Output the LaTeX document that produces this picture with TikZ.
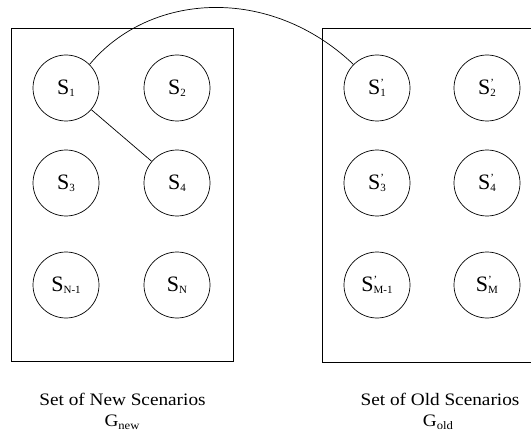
\documentclass[tikz,border=0pt]{standalone}
\usepackage{fontspec}
\setmainfont{Liberation Serif}
\newfontfamily\lblfont[FakeStretch=1.1]{Liberation Serif}
\newcommand\subsz{\fontsize{11}{11}\selectfont}
\newcommand\scen[2]{\fontsize{22}{22}\selectfont S\makebox[0pt][l]{\raisebox{8pt}{\subsz #1}}\raisebox{-2pt}{\subsz #2}}
\newcommand\grp[1]{G\raisebox{-3pt}{\fontsize{11.5}{11.5}\selectfont #1}}
\begin{document}
\begin{tikzpicture}[x=1pt,y=-1pt,
  scen/.style={draw,circle,minimum size=66pt,inner sep=0pt,line width=0.7pt},
  setbox/.style={draw,line width=0.7pt},
  link/.style={draw,line width=0.7pt},
  lbl/.style={anchor=base,inner sep=0pt,font=\lblfont\fontsize{17.5}{17.5}\selectfont}]
\useasboundingbox (0,0) rectangle (531,444);
% boxes
\draw[setbox] (11,28.5) rectangle (233,361);
\draw[setbox] (322,28.5) rectangle (545,362);
% new scenarios
\node[scen] (s1) at (66,88) {\scen{}{1}};
\node[scen] (s2) at (177,88) {\scen{}{2}};
\node[scen] (s3) at (66,183) {\scen{}{3}};
\node[scen] (s4) at (177,183) {\scen{}{4}};
\node[scen] (sn1) at (66,285) {\scen{}{N-1}};
\node[scen] (sn) at (177,285) {\scen{}{N}};
% old scenarios
\node[scen] (o1) at (377,88) {\scen{'}{1}};
\node[scen] (o2) at (487,88) {\scen{'}{2}};
\node[scen] (o3) at (377,183) {\scen{'}{3}};
\node[scen] (o4) at (487,183) {\scen{'}{4}};
\node[scen] (om1) at (377,285) {\scen{'}{M-1}};
\node[scen] (om) at (487,285) {\scen{'}{M}};
% links
\draw[link] (s1) -- (s4);
\draw[link] (s1.45) .. controls (150,-8) and (270,-15) .. (o1.135);
% labels
\node[lbl] (newlbl) at (122.5,405) {Set of New Scenarios};
\node[lbl] (gnew) at (122,426) {\grp{new}};
\node[lbl] (oldlbl) at (440,405) {Set of Old Scenarios};
\node[lbl] (gold) at (438,426) {\grp{old}};
\end{tikzpicture}
\end{document}
